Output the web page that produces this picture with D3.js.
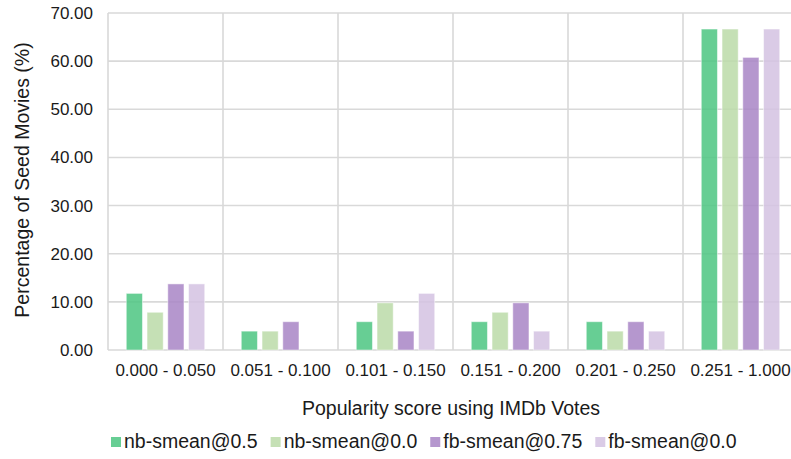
<!DOCTYPE html>
<html>
<head>
<meta charset="utf-8">
<script src="https://cdn.jsdelivr.net/npm/d3@7"></script>
<style>
  html, body { margin: 0; padding: 0; background: #fff; }
  svg { display: block; font-family: "Liberation Sans", Arial, sans-serif; }
</style>
</head>
<body>
<svg id="chart" width="791" height="459"></svg>
<script>
// Popularity buckets (IMDb votes score)
const categories = ["0.000 - 0.050", "0.051 - 0.100", "0.101 - 0.150", "0.151 - 0.200", "0.201 - 0.250", "0.251 - 1.000"];
const seriesNames = ["nb-smean@0.5", "nb-smean@0.0", "fb-smean@0.75", "fb-smean@0.0"];

// Percentage of seed movies per bucket for each configuration
const nbSmean05  = [11.76, 3.92, 5.88, 5.88, 5.88, 66.67];
const nbSmean00  = [7.84, 3.92, 9.80, 7.84, 3.92, 66.67];
const fbSmean075 = [13.73, 5.88, 3.92, 9.80, 5.88, 60.78];
const fbSmean00  = [13.73, 0.00, 11.76, 3.92, 3.92, 66.67];

const yTicks = [0, 10, 20, 30, 40, 50, 60, 70];
const colors = ["#4cc681", "#bbdba8", "#a885c6", "#d4c2e2"];

const seriesValues = [nbSmean05, nbSmean00, fbSmean075, fbSmean00];
const rows = categories.map((c, i) => ({
  category: c,
  values: seriesNames.map((s, k) => ({ key: s, value: seriesValues[k][i], idx: k }))
}));

const svg = d3.select("#chart");
const margin = { left: 108, top: 13, right: 798, bottom: 350 };

const x0 = d3.scaleBand().domain(categories).range([margin.left, margin.right]).padding(0);
const x1 = d3.scaleBand().domain(seriesNames).range([0, x0.bandwidth()])
  .paddingInner(0.22).paddingOuter(0.88);
const y = d3.scaleLinear().domain([0, 70]).range([margin.bottom, margin.top]);
const color = d3.scaleOrdinal().domain(seriesNames).range(colors);

const grid = "#d9d9d9";
const ink = "#1a1a1a";

// horizontal gridlines
svg.append("g").selectAll("line").data(yTicks).join("line")
  .attr("x1", margin.left).attr("x2", margin.right)
  .attr("y1", d => y(d)).attr("y2", d => y(d))
  .attr("stroke", grid).attr("stroke-width", 1.6);

// vertical gridlines at category boundaries
const bounds = categories.map(c => x0(c)).concat([margin.right]);
svg.append("g").selectAll("line").data(bounds).join("line")
  .attr("x1", d => d).attr("x2", d => d)
  .attr("y1", margin.top).attr("y2", margin.bottom)
  .attr("stroke", grid).attr("stroke-width", 1.6);

// bars
svg.append("g").selectAll("g").data(rows).join("g")
  .attr("transform", d => `translate(${x0(d.category)},0)`)
  .selectAll("rect").data(d => d.values.filter(v => v.value > 0)).join("rect")
  .attr("x", d => x1(d.key))
  .attr("width", x1.bandwidth())
  .attr("y", d => y(d.value))
  .attr("height", d => y(0) - y(d.value))
  .attr("fill", d => color(d.key))
  .attr("fill-opacity", 0.85)
  .attr("stroke", "#ffffff").attr("stroke-opacity", 0.5).attr("stroke-width", 1);

// y axis labels
const yAxis = d3.axisLeft(y).tickValues(yTicks).tickFormat(d3.format(".2f")).tickSize(0).tickPadding(15);
const ya = svg.append("g").attr("transform", `translate(${margin.left},0)`).call(yAxis);
ya.select(".domain").remove();
ya.selectAll("text").attr("font-size", 17).attr("fill", ink)
  .attr("font-family", "Liberation Sans, Arial, sans-serif");

// x axis labels
const xAxis = d3.axisBottom(x0).tickSize(0).tickPadding(14);
const xa = svg.append("g").attr("transform", `translate(0,${margin.bottom})`).call(xAxis);
xa.select(".domain").remove();
xa.selectAll("text").attr("font-size", 17).attr("fill", ink)
  .attr("font-family", "Liberation Sans, Arial, sans-serif");

// axis titles
svg.append("text")
  .attr("x", 451).attr("y", 415)
  .attr("text-anchor", "middle").attr("font-size", 19.5).attr("fill", ink)
  .text("Popularity score using IMDb Votes");

svg.append("text")
  .attr("transform", "translate(29,180) rotate(-90)")
  .attr("text-anchor", "middle").attr("font-size", 19.5).attr("fill", ink)
  .text("Percentage of Seed Movies (%)");

// legend
const legend = svg.append("g").attr("transform", "translate(111,448)");
let lx = 0;
seriesNames.forEach((s, k) => {
  const g = legend.append("g").attr("transform", `translate(${lx},0)`);
  g.append("rect").attr("x", 0).attr("y", -11).attr("width", 10).attr("height", 10)
    .attr("fill", color(s)).attr("fill-opacity", 0.85);
  const t = g.append("text").attr("x", 13).attr("y", 0)
    .attr("font-size", 19.5).attr("fill", ink).text(s);
  lx += 13 + t.node().getComputedTextLength() + 13;
});
</script>
</body>
</html>
